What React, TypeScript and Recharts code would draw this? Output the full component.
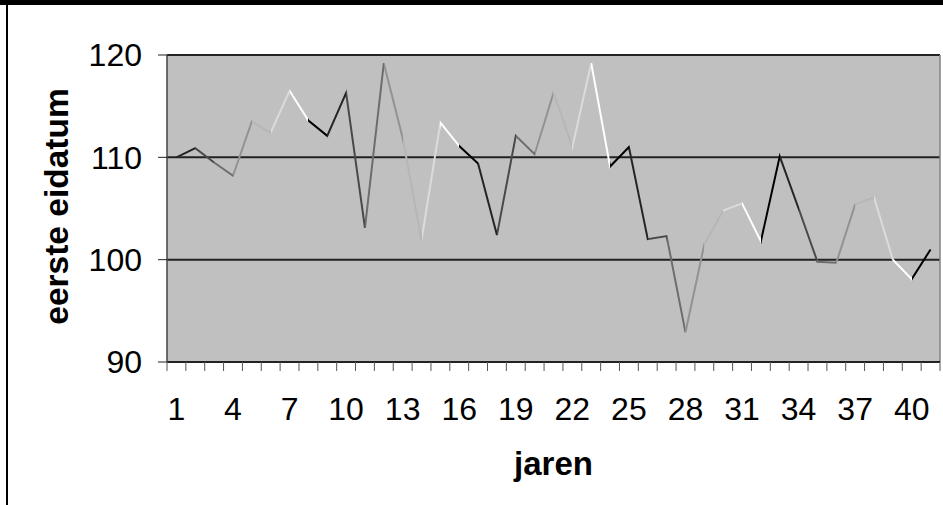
import { LineChart, Line, XAxis, YAxis, CartesianGrid, ReferenceLine } from 'recharts'

const JAREN = [
  1, 2, 3, 4, 5, 6, 7, 8, 9, 10, 11, 12, 13, 14, 15, 16, 17, 18, 19, 20, 21,
  22, 23, 24, 25, 26, 27, 28, 29, 30, 31, 32, 33, 34, 35, 36, 37, 38, 39, 40, 41,
]
const EIDATUM = [
  110.0, 110.9, 109.5, 108.2, 113.5, 112.4, 116.5, 113.6, 112.1, 116.3, 103.1,
  119.2, 111.9, 101.9, 113.4, 111.1, 109.4, 102.4, 112.1, 110.3, 116.3, 111.0,
  119.2, 109.1, 111.0, 102.0, 102.3, 92.9, 101.5, 104.8, 105.5, 101.8, 110.1,
  105.0, 99.8, 99.7, 105.4, 106.1, 100.0, 98.1, 101.0,
]
const X_LABELS = [1, 4, 7, 10, 13, 16, 19, 22, 25, 28, 31, 34, 37, 40]
const Y_TICKS = [90, 100, 110, 120]

const FONT = '"Liberation Sans", Arial, Helvetica, sans-serif'
const PERIOD = 8 // line shade cycles every 8 segments, black -> white
const TICK_SIZE = 9
const TICK_MARGIN = 26
const W = 943
const H = 505

const data = JAREN.map((jaar, i) => ({ jaar, eidatum: EIDATUM[i] }))

const first = JAREN[0]
const last = JAREN[JAREN.length - 1]
const span = last - first
const boundaries = JAREN.map(j => j - 0.5).concat(last + 0.5)
const xTicks = [...boundaries, ...X_LABELS].sort((a, b) => a - b)

const shades = Array.from({ length: PERIOD }, (_, i) => {
  const v = Math.round((255 * i) / (PERIOD - 1))
  return `rgb(${v},${v},${v})`
})

function XTick(props: any) {
  const { x, y, payload } = props
  const v = payload.value
  if (Number.isInteger(v)) {
    return (
      <text x={x} y={y} dy="0.71em" textAnchor="middle" fontSize={32} fontFamily={FONT} fill="#000">
        {v}
      </text>
    )
  }
  const y0 = y - TICK_SIZE - TICK_MARGIN
  return <line x1={x} x2={x} y1={y0} y2={y0 + TICK_SIZE} stroke="#555" strokeWidth={1} />
}

function YTitle(props: any) {
  const vb = props.viewBox
  const cx = vb.x - 19
  const cy = vb.y + vb.height / 2 - 2
  return (
    <text
      x={cx}
      y={cy}
      transform={`rotate(-90 ${cx} ${cy})`}
      textAnchor="middle"
      fontSize={33.5}
      fontWeight="bold"
      fontFamily={FONT}
      fill="#000"
    >
      eerste eidatum
    </text>
  )
}

export default function App() {
  // outer box gives the thick top edge of the original screenshot,
  // inner box the thin left edge; the chart itself sits at page (0,0)
  return (
    <div
      style={{
        position: 'absolute',
        left: 0,
        top: 0,
        width: W,
        height: H,
        background: '#fff',
        boxSizing: 'border-box',
        borderTop: '5px solid #000',
      }}
    >
      <div
        style={{
          position: 'absolute',
          left: 6,
          top: -5,
          width: W - 6,
          height: H,
          boxSizing: 'border-box',
          borderLeft: '2px solid #000',
        }}
      >
        <div style={{ position: 'absolute', left: -8, top: 0 }}>
          <LineChart width={W} height={H} data={data} margin={{ top: 55, right: 3, bottom: 83, left: 87 }}>
            <defs>
              <linearGradient
                id="shadeBand"
                x1={(0 - first) / span}
                x2={(PERIOD - first) / span}
                y1={0}
                y2={0}
                spreadMethod="repeat"
              >
                {shades.map((c, i) => [
                  <stop key={`a${i}`} offset={i / PERIOD} stopColor={c} />,
                  <stop key={`b${i}`} offset={(i + 1) / PERIOD} stopColor={c} />,
                ])}
              </linearGradient>
            </defs>
            <CartesianGrid vertical={false} fill="#c0c0c0" fillOpacity={1} stroke="#222" strokeWidth={2} />
            <XAxis
              dataKey="jaar"
              type="number"
              domain={[first - 0.5, last + 0.5]}
              ticks={xTicks}
              interval={0}
              tick={XTick}
              tickLine={false}
              tickSize={TICK_SIZE}
              tickMargin={TICK_MARGIN}
              axisLine={{ stroke: '#222', strokeWidth: 2 }}
              height={60}
              label={{
                value: 'jaren',
                position: 'bottom',
                offset: 30,
                style: { fontSize: 33, fontWeight: 'bold', fontFamily: FONT, fill: '#000' },
              }}
            />
            <YAxis
              type="number"
              domain={[90, 120]}
              ticks={Y_TICKS}
              interval={0}
              width={80}
              tickSize={TICK_SIZE}
              tickMargin={16}
              tick={{ fontSize: 32, fontFamily: FONT, fill: '#000' }}
              tickLine={{ stroke: '#222' }}
              axisLine={{ stroke: '#444', strokeWidth: 1.5 }}
              label={{ content: YTitle }}
            />
            <ReferenceLine x={last + 0.5} stroke="#808080" strokeWidth={1.5} />
            <Line
              type="linear"
              dataKey="eidatum"
              stroke="url(#shadeBand)"
              strokeWidth={2}
              dot={false}
              activeDot={false}
              isAnimationActive={false}
            />
          </LineChart>
        </div>
      </div>
    </div>
  )
}
